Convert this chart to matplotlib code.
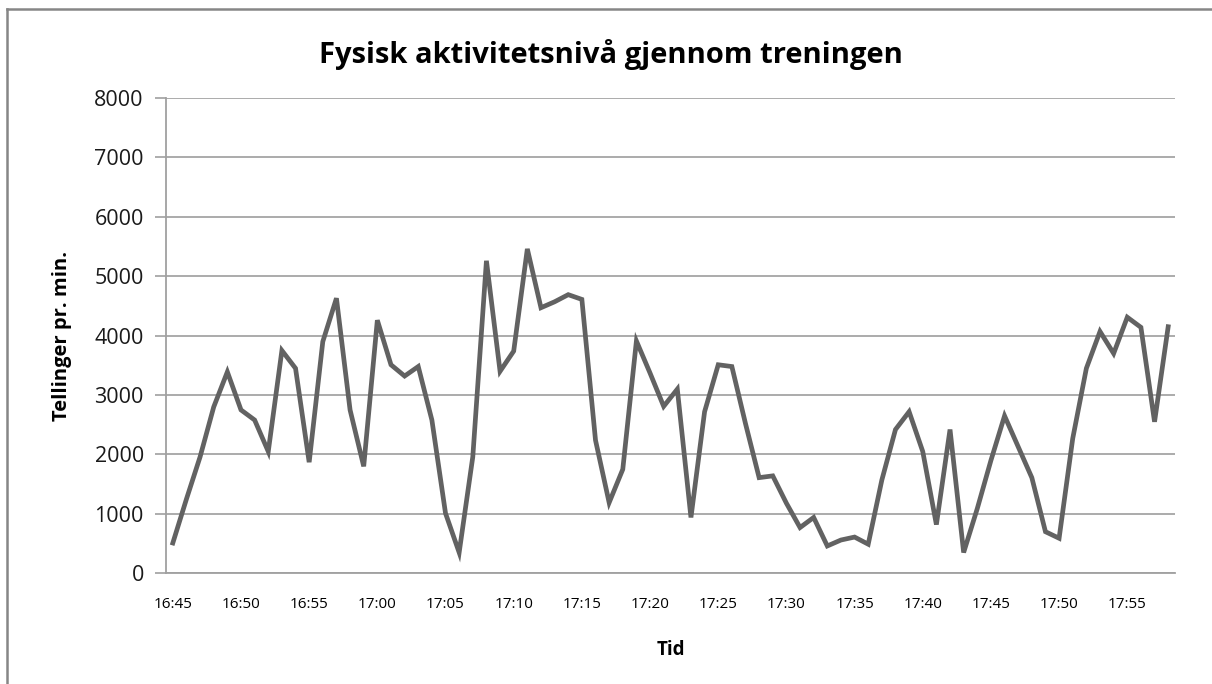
import matplotlib
matplotlib.use("Agg")
import matplotlib.pyplot as plt
from matplotlib.lines import Line2D

# ============================================================
# DATA
# ============================================================
tick_labels = ["16:45", "16:50", "16:55", "17:00", "17:05", "17:10", "17:15",
               "17:20", "17:25", "17:30", "17:35", "17:40", "17:45", "17:50",
               "17:55"]

# Tellinger pr. min., one value per minute from 16:45 to 17:58
counts = [510, 1250, 1960, 2800, 3390, 2750, 2580, 2050, 3750, 3450,
          1870, 3900, 4630, 2750, 1800, 4260, 3510, 3320, 3480, 2580,
          1010, 350, 1960, 5260, 3400, 3740, 5460, 4470, 4570, 4690,
          4610, 2240, 1190, 1750, 3910, 3370, 2810, 3100, 940, 2720,
          3510, 3480, 2520, 1610, 1640, 1180, 770, 940, 460, 560,
          610, 490, 1570, 2420, 2720, 2050, 820, 2420, 350, 1090,
          1900, 2650, 2130, 1610, 700, 590, 2270, 3450, 4070, 3700,
          4310, 4140, 2550, 4150]

plt.rcParams['font.family'] = ['Open Sans', 'DejaVu Sans']

W, H = 1212, 684
fig = plt.figure(figsize=(W / 100, H / 100), dpi=100)
ax = fig.add_axes([166 / W, 1 - 573.3 / H, (1175 - 166) / W, (573.3 - 98) / H])

x = list(range(len(counts)))
ax.plot(x, counts, color="#626262", linewidth=3.4, solid_joinstyle="miter")

ax.set_xlim(-0.5, len(counts) - 0.5)
ax.set_ylim(0, 8000)
ax.set_yticks(range(0, 8001, 1000))
ax.set_xticks(range(0, len(tick_labels) * 5, 5))
ax.set_xticklabels(tick_labels, fontsize=11)
ax.tick_params(axis="x", length=0, pad=17, colors="black")
ax.tick_params(axis="y", length=8, width=1.2, color="#a0a0a0",
               labelsize=15.5, pad=8, labelcolor="#1a1a1a")

ax.grid(axis="y", color="#a5a5a5", linewidth=1.3)
ax.set_axisbelow(True)
for s in ["top", "right"]:
    ax.spines[s].set_visible(False)
for s in ["left", "bottom"]:
    ax.spines[s].set_color("#a0a0a0")
    ax.spines[s].set_linewidth(1.3)

ax.set_ylabel("Tellinger pr. min.", fontsize=14.5, fontweight="bold", labelpad=16)
ax.set_xlabel("Tid", fontsize=13.5, fontweight="bold", labelpad=20)

fig.text(611 / W, 1 - 55 / H, "Fysisk aktivitetsnivå gjennom treningen",
         ha="center", va="center", fontsize=21, fontweight="bold")

# chart border (only top and left edges are inside the picture)
fig.add_artist(Line2D([7 / W, 1.0], [1 - 9 / H, 1 - 9 / H],
                      transform=fig.transFigure, color="#868686", linewidth=1.8))
fig.add_artist(Line2D([7 / W, 7 / W], [0.0, 1 - 9 / H],
                      transform=fig.transFigure, color="#868686", linewidth=1.8))

fig.savefig("out.png", dpi=100)
